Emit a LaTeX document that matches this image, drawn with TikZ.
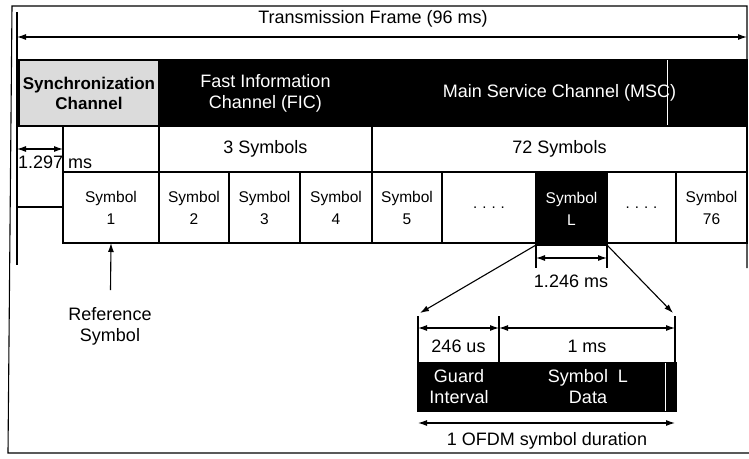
\documentclass[tikz,border=0pt]{standalone}
\usepackage{fontspec}
\setmainfont{Liberation Sans}
\usetikzlibrary{arrows.meta,calc}
\begin{document}
\begin{tikzpicture}[x=1pt,y=-1pt,
  every node/.style={inner sep=0pt, outer sep=0pt},
  big/.style={font=\fontsize{18}{21}\selectfont},
  small/.style={font=\fontsize{15.5}{22}\selectfont},
  cell/.style={draw, line width=1.1pt, anchor=north west, align=center},
  dark/.style={cell, fill=black, text=white},
  rule/.style={line width=1.1pt},
  tip/.style={rule, -{Latex[length=9pt,width=6pt]}},
  dtip/.style={rule, {Latex[length=9pt,width=6pt]}-{Latex[length=9pt,width=6pt]}},
  dotcell/.style={cell, font=\fontsize{15}{18}\selectfont}
]
\useasboundingbox (0,0) rectangle (749,458);

% outer frame and inner margin line
\draw[rule] (747,268) -- (747,6) -- (12,6) -- (8,453) -- (749,453);
\draw[rule] (17,12) -- (17,265);

% whole frame duration
\node[big] (title) at (373,19) {Transmission Frame (96 ms)};
\coordinate (frL) at (17,37);
\coordinate (frR) at (747,37);
\draw[dtip] (frL) -- (frR);

% channel row
\node[cell, fill=black!14, minimum width=140pt, minimum height=66pt,
      font={\fontsize{17}{20}\selectfont\bfseries}] (sync) at (19,60) {Synchronization\\Channel};
\node[dark, big, minimum width=213pt, minimum height=66pt] (fic) at (159,60) {Fast Information\\Channel (FIC)};
\node[dark, big, minimum width=375pt, minimum height=66pt] (msc) at (372,60) {Main Service Channel (MSC)};
\draw[white, line width=0.6pt] ($(msc.north west)+(295,0)$) -- ($(msc.south west)+(295,0)$);

% symbol count row
\node[cell, minimum width=96pt, minimum height=46pt] (blank) at (63,126) {};
\node[cell, big, minimum width=213pt, minimum height=46pt] (three) at (159,126) {3 Symbols};
\node[cell, big, minimum width=375pt, minimum height=46pt] (seventytwo) at (372,126) {72 Symbols};

% null symbol duration
\coordinate (lft) at (17,149);
\draw[dtip] (lft) -- (blank.west);
\node[big, anchor=west] (t1297) at (18,162) {1.297 ms};
\coordinate (lftB) at (17,207);
\draw[rule] (lftB) -- (lftB -| blank.west);

% symbol row
\node[cell, small, minimum width=96pt, minimum height=71pt] (sym1) at (63,172) {Symbol\\1};
\node[cell, small, minimum width=70pt, minimum height=71pt] (sym2) at (159,172) {Symbol\\2};
\node[cell, small, minimum width=71pt, minimum height=71pt] (sym3) at (229,172) {Symbol\\3};
\node[cell, small, minimum width=72pt, minimum height=71pt] (sym4) at (300,172) {Symbol\\4};
\node[cell, small, minimum width=70pt, minimum height=71pt] (sym5) at (372,172) {Symbol\\5};
\node[dotcell, minimum width=94pt, minimum height=71pt] (dotsA) at (442,172) {.\hspace{5pt}.\hspace{5pt}.\hspace{5pt}.};
\node[dark, small, minimum width=71pt, minimum height=73pt] (symL) at (536,172) {Symbol\\L};
\node[dotcell, minimum width=69pt, minimum height=71pt] (dotsB) at (607,172) {.\hspace{5pt}.\hspace{5pt}.\hspace{5pt}.};
\node[cell, small, minimum width=71pt, minimum height=71pt] (sym76) at (676,172) {Symbol\\76};

% reference symbol pointer
\coordinate (refT) at (110.5,290);
\draw[tip] (refT) -- (sym1.south);
\node[big, align=center] (reflbl) at (110,326) {Reference\\Symbol};

% symbol duration
\draw[rule] (symL.south west) -- ++(0,23);
\draw[rule] (symL.south east) -- ++(0,23);
\draw[dtip] ($(symL.south west)+(0,13)$) -- ($(symL.south east)+(0,13)$);
\node[big] (t1246) at (571,281) {1.246 ms};

% zoom-in onto one OFDM symbol
\coordinate (zl) at (420,313);
\coordinate (zr) at (673,313);
\draw[tip] (symL.south west) -- (zl);
\draw[tip] (symL.south east) -- (zr);

\node[big, anchor=north west, minimum width=81pt, minimum height=33pt] (gi) at (418,330) {246 us};
\node[big, anchor=north west, minimum width=176pt, minimum height=33pt] (ms1) at (499,330) {1 ms};
\draw[rule] ($(gi.north west)+(0,-14)$) -- (gi.south west);
\draw[rule] ($(gi.north east)+(0,-14)$) -- (gi.south east);
\draw[rule] ($(ms1.north east)+(0,-14)$) -- (ms1.south east);
\draw[dtip] ($(gi.north west)+(0,-2)$) -- ($(gi.north east)+(0,-2)$);
\draw[dtip] ($(ms1.north west)+(0,-2)$) -- ($(ms1.north east)+(0,-2)$);

\node[dark, minimum width=258pt, minimum height=48pt] (ofdm) at (418,363) {};
\draw[white, line width=0.6pt] ($(ofdm.north east)+(-11,0)$) -- ($(ofdm.south east)+(-11,0)$);
\node[big, text=white, align=center] (guardlbl) at (459,387) {Guard\\Interval};
\node[big, text=white, align=center] (datalbl) at (588,387) {Symbol\ \ L\\Data};

\draw[dtip] ($(ofdm.south west)+(0,12)$) -- ($(ofdm.south east)+(-1,12)$);
\node[big] (dur) at (547,441) {1 OFDM symbol duration};
\end{tikzpicture}
\end{document}
